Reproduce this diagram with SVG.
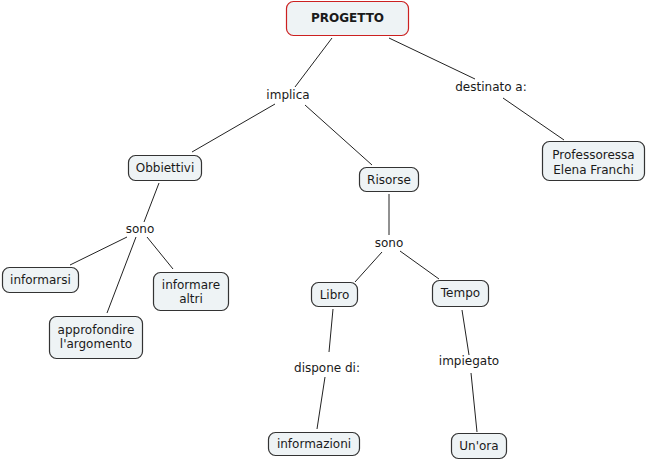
<svg xmlns="http://www.w3.org/2000/svg" width="647" height="461" viewBox="0 0 647 461">
<style>
.n{fill:#eef3f5;stroke:#333;stroke-width:1.2}
.r{fill:#eef3f5;stroke:#cc2020;stroke-width:1.2}
text{font-family:"DejaVu Sans",Verdana,sans-serif;font-size:12px;fill:#1a1a1a;text-anchor:middle}
.b{font-weight:bold}
.c line{stroke:#222;stroke-width:1}
</style>
<rect width="647" height="461" fill="#fff"/>
<g class="c" id="connectors">
<line x1="332" y1="38" x2="295" y2="87"/>
<line x1="389" y1="38" x2="475" y2="79"/>
<line x1="503" y1="98" x2="564" y2="140"/>
<line x1="275" y1="104" x2="192" y2="152"/>
<line x1="305" y1="105" x2="372" y2="165"/>
<line x1="159" y1="183" x2="144" y2="222"/>
<line x1="127" y1="237" x2="70" y2="265"/>
<line x1="136" y1="237" x2="107" y2="313"/>
<line x1="147" y1="237" x2="173" y2="269"/>
<line x1="389" y1="194" x2="389" y2="235"/>
<line x1="382" y1="252" x2="355" y2="282"/>
<line x1="400" y1="251" x2="439" y2="279"/>
<line x1="333" y1="309" x2="329" y2="352"/>
<line x1="325" y1="377" x2="317" y2="429"/>
<line x1="462" y1="310" x2="469" y2="355"/>
<line x1="471" y1="373" x2="477" y2="432"/>
</g>
<g id="progetto"><rect class="r" x="286.5" y="1.5" width="122" height="34" rx="7"/><text class="b" x="347.5" y="22">PROGETTO</text></g>
<g id="implica"><text x="288" y="99">implica</text></g>
<g id="destinato"><text x="491" y="91">destinato a:</text></g>
<g id="professoressa"><rect class="n" x="542.5" y="141.5" width="102" height="39" rx="7"/><text x="593.5" y="159">Professoressa</text><text x="593.5" y="174">Elena Franchi</text></g>
<g id="obbiettivi"><rect class="n" x="128.5" y="155.5" width="73" height="25" rx="7"/><text x="165" y="172">Obbiettivi</text></g>
<g id="risorse"><rect class="n" x="359.5" y="167.5" width="59" height="24" rx="7"/><text x="389" y="184">Risorse</text></g>
<g id="sono1"><text x="140" y="233">sono</text></g>
<g id="sono2"><text x="389" y="247">sono</text></g>
<g id="informarsi"><rect class="n" x="2.5" y="267.5" width="76" height="25" rx="7"/><text x="40.5" y="284">informarsi</text></g>
<g id="informare"><rect class="n" x="153.5" y="272.5" width="75" height="38" rx="7"/><text x="191" y="289">informare</text><text x="191" y="303">altri</text></g>
<g id="approfondire"><rect class="n" x="49.5" y="316.5" width="93" height="42" rx="7"/><text x="96" y="334">approfondire</text><text x="96" y="348">l'argomento</text></g>
<g id="libro"><rect class="n" x="311.5" y="282.5" width="46" height="24" rx="7"/><text x="334.5" y="299">Libro</text></g>
<g id="tempo"><rect class="n" x="432.5" y="280.5" width="56" height="26" rx="7"/><text x="460.5" y="297">Tempo</text></g>
<g id="dispone"><text x="327" y="372">dispone di:</text></g>
<g id="impiegato"><text x="469" y="365">impiegato</text></g>
<g id="informazioni"><rect class="n" x="268.5" y="432.5" width="91" height="23" rx="7"/><text x="314" y="448">informazioni</text></g>
<g id="unora"><rect class="n" x="451.5" y="433.5" width="55" height="25" rx="7"/><text x="479" y="450">Un'ora</text></g>
</svg>
